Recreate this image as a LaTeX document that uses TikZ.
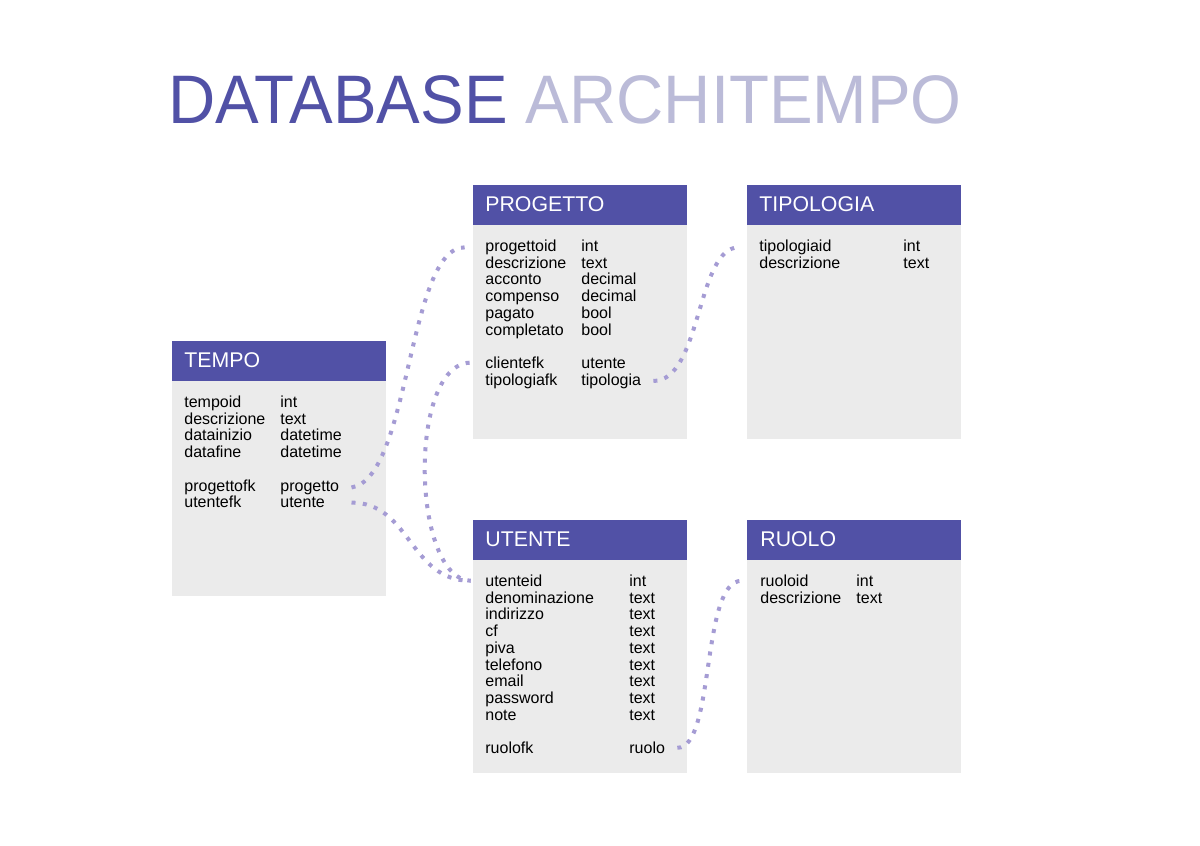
\documentclass[tikz,border=0pt]{standalone}
\usepackage{fontspec}
\setmainfont{Liberation Sans}
\usetikzlibrary{calc}
\definecolor{hdrblue}{RGB}{81,81,166}
\definecolor{bodygray}{RGB}{235,235,235}
\definecolor{archi}{RGB}{187,187,216}
\definecolor{linkc}{RGB}{165,156,212}
\begin{document}
\begin{tikzpicture}[x=0.5pt,y=-0.5pt,
 hdr/.style={fill=hdrblue, draw=none, inner sep=0, minimum width=107pt, minimum height=20pt},
 tbody/.style={fill=bodygray, draw=none, inner sep=0, minimum width=107pt},
 htxt/.style={anchor=base west, inner sep=0, text=white, font=\fontsize{10.65}{12}\selectfont},
 fld/.style={anchor=base west, inner sep=0, text=black, font=\fontsize{8}{9.6}\selectfont},
 link/.style={draw=linkc, line width=2pt, dash pattern=on 2pt off 3.7pt}]

\useasboundingbox[fill=white] (0,0) rectangle (1200,846);

% title
\node[anchor=base west, inner sep=0, font=\fontsize{32.7}{36}\selectfont] (title) at (168,123)
  {\scalebox{1}[1.05]{\textcolor{hdrblue}{DATABASE} \textcolor{archi}{ARCHITEMPO}}};

% TEMPO
\node[tbody, minimum height=107.5pt] (tm) at (279,488.5) {};
\node[hdr] (tmh) at (279,361) {};
\node[htxt] (tmt) at (184,367) {TEMPO};
\foreach \k/\a/\b in {0/tempoid/int,1/descrizione/text,2/datainizio/datetime,3/datafine/datetime,5/progettofk/progetto,6/utentefk/utente}{
  \node[fld] (tm-a\k) at (184,{407.5+16.7*\k}) {\a};
  \node[fld] (tm-b\k) at (280,{407.5+16.7*\k}) {\b};
}

% PROGETTO
\node[tbody, minimum height=107pt] (pg) at (580,332) {};
\node[hdr] (pgh) at (580,205) {};
\node[htxt] (pgt) at (485,211.5) {PROGETTO};
\foreach \k/\a/\b in {0/progettoid/int,1/descrizione/text,2/acconto/decimal,3/compenso/decimal,4/pagato/bool,5/completato/bool,7/clientefk/utente,8/tipologiafk/tipologia}{
  \node[fld] (pg-a\k) at (485,{251.5+16.7*\k}) {\a};
  \node[fld] (pg-b\k) at (581,{251.5+16.7*\k}) {\b};
}

% TIPOLOGIA
\node[tbody, minimum height=107pt] (tp) at (854,332) {};
\node[hdr] (tph) at (854,205) {};
\node[htxt] (tpt) at (759,211.5) {TIPOLOGIA};
\foreach \k/\a/\b in {0/tipologiaid/int,1/descrizione/text}{
  \node[fld] (tp-a\k) at (759,{251.5+16.7*\k}) {\a};
  \node[fld] (tp-b\k) at (903,{251.5+16.7*\k}) {\b};
}

% UTENTE
\node[tbody, minimum height=106.5pt] (ut) at (580,666.5) {};
\node[hdr] (uth) at (580,540) {};
\node[htxt] (utt) at (485,546.5) {UTENTE};
\foreach \k/\a/\b in {0/utenteid/int,1/denominazione/text,2/indirizzo/text,3/cf/text,4/piva/text,5/telefono/text,6/email/text,7/password/text,8/note/text,10/ruolofk/ruolo}{
  \node[fld] (ut-a\k) at (485,{586.5+16.7*\k}) {\a};
  \node[fld] (ut-b\k) at (629,{586.5+16.7*\k}) {\b};
}

% RUOLO
\node[tbody, minimum height=106.5pt] (ro) at (854,666.5) {};
\node[hdr] (roh) at (854,540) {};
\node[htxt] (rot) at (760,546.5) {RUOLO};
\foreach \k/\a/\b in {0/ruoloid/int,1/descrizione/text}{
  \node[fld] (ro-a\k) at (760,{586.5+16.7*\k}) {\a};
  \node[fld] (ro-b\k) at (856,{586.5+16.7*\k}) {\b};
}

% connector end points
\coordinate (s1) at ([xshift=6pt]tm-b5.east);
\coordinate (s2) at (s1 |- tm-b6.east);
\coordinate (t1) at (pg.west |- pg-a0.east);
\coordinate (e1) at ([xshift=-4pt]t1);
\coordinate (t2) at (ut.west |- ut-a0.east);
\coordinate (e2) at ([xshift=-1pt]t2);
\coordinate (t3) at (pg.west |- pg-a7.east);
\coordinate (s3) at ([xshift=-1.5pt]t3);
\coordinate (s4) at ([xshift=6pt]pg-b8.east);
\coordinate (t4) at (tp.west |- tp-a0.east);
\coordinate (e4) at ([xshift=-4pt]t4);
\coordinate (s5) at ([xshift=6pt]ut-b10.east);
\coordinate (t5) at (ro.west |- ro-a0.east);
\coordinate (e5) at ([xshift=-2.5pt]t5);

% connectors
\draw[link] (s1) .. controls +(59,-9) and +(-57,0) .. (e1);
\draw[link] (s2) .. controls +(59,0) and +(-61,0) .. (e2);
\draw[link] (s3) .. controls +(-62,3) and +(-59,-2) .. (e2);
\draw[link] (s4) .. controls +(48,0) and +(-42,0) .. (e4);
\draw[link] (s5) .. controls +(38,0) and +(-41,0) .. (e5);
\end{tikzpicture}
\end{document}
